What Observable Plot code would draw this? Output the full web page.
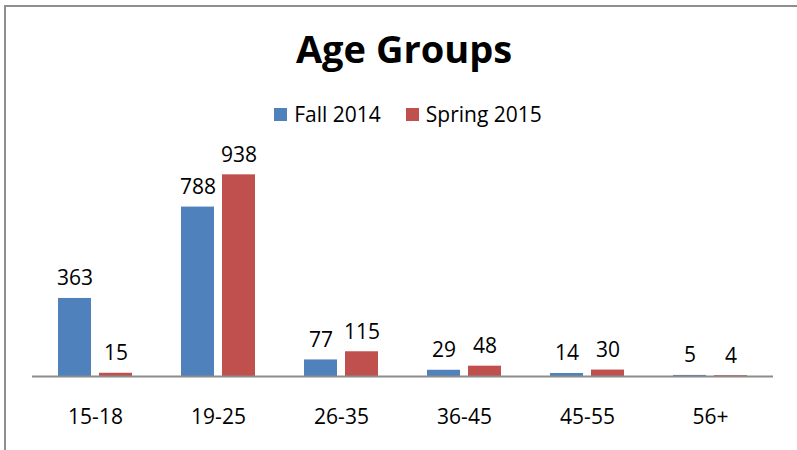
<!DOCTYPE html>
<html><head><meta charset="utf-8">
<script src="https://cdn.jsdelivr.net/npm/d3@7"></script>
<script src="https://cdn.jsdelivr.net/npm/@observablehq/plot@0.6"></script>
<style>
body{margin:0;background:#fff;font-family:"Open Sans",sans-serif;color:#000;}
#wrap{position:relative;width:797px;height:450px;overflow:hidden;}
#frame{position:absolute;left:4px;top:5px;width:900px;height:500px;border-left:2px solid #8e8e8e;border-top:2px solid #8e8e8e;}
#title{position:absolute;left:0;width:808px;top:26px;text-align:center;font-weight:bold;font-size:38px;line-height:44px;}
#legend{position:absolute;left:0;width:816px;top:102px;display:flex;justify-content:center;font-size:21px;line-height:24px;}
.item{display:flex;align-items:center;margin:0 12.5px;}
.sw{width:13px;height:13px;margin-right:7px;}
#chart{position:absolute;left:0;top:130px;}
</style></head>
<body>
<div id="wrap">
  <div id="frame"></div>
  <div id="title">Age Groups</div>
  <div id="legend"></div>
  <div id="chart"></div>
</div>
<script>
const title = "Age Groups";
const categories = ["15-18","19-25","26-35","36-45","45-55","56+"];
const seasons = ["Fall 2014","Spring 2015"];
const fall = [363,788,77,29,14,5];
const spring = [15,938,115,48,30,4];
const colors = ["#4F81BD","#C0504D"];

const fallData = categories.map((c,i)=>({age:c, season:seasons[0], value:fall[i]}));
const springData = categories.map((c,i)=>({age:c, season:seasons[1], value:spring[i]}));

const legend = document.getElementById("legend");
seasons.forEach((s,i)=>{
  const it = document.createElement("div"); it.className="item";
  const sw = document.createElement("div"); sw.className="sw"; sw.style.background=colors[i];
  const tx = document.createElement("span"); tx.textContent = s;
  it.appendChild(sw); it.appendChild(tx); legend.appendChild(it);
});

const chart = Plot.plot({
  width:797, height:320, marginTop:31, marginBottom:74, marginLeft:32, marginRight:24,
  style:{fontFamily:"Open Sans", fontSize:"21px", color:"#000", background:"transparent", overflow:"visible"},
  x:{domain:categories, paddingInner:0.4, paddingOuter:0.2, label:null, axis:"bottom", tickSize:0, tickPadding:33},
  y:{domain:[0,1000], axis:null},
  marks:[
    Plot.barY(fallData,{x:"age", y:"value", fill:colors[0], insetRight:41}),
    Plot.barY(springData,{x:"age", y:"value", fill:colors[1], insetLeft:41}),
    Plot.text(fallData,{x:"age", y:"value", text:d=>String(d.value), dx:-20.5, lineAnchor:"bottom", dy:-13, fontSize:21, fill:"#000"}),
    Plot.text(springData,{x:"age", y:"value", text:d=>String(d.value), dx:20.5, lineAnchor:"bottom", dy:-13, fontSize:21, fill:"#000"}),
    Plot.ruleY([0],{stroke:"#8c8c8c", strokeWidth:2})
  ]
});
document.getElementById("chart").appendChild(chart);
</script>
</body></html>
